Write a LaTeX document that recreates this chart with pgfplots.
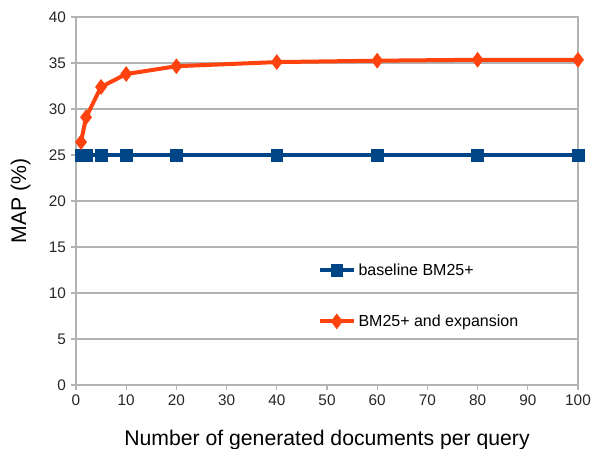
\documentclass[border=0pt]{standalone}
\usepackage{pgfplots}
\pgfplotsset{compat=1.18}
\usepackage{fontspec}
\setmainfont{Liberation Sans}
\definecolor{lblue}{HTML}{004586}
\definecolor{lorange}{HTML}{FF420E}
\definecolor{gridc}{HTML}{B3B3B3}
\begin{document}
\begin{tikzpicture}[x=0.75pt,y=0.75pt]
\begin{axis}[
  scale only axis,
  width=376.5pt, height=276pt,
  xmin=0, xmax=100, ymin=0, ymax=40,
  xtick={0,10,...,100}, ytick={0,5,...,40},
  ymajorgrids, major grid style={gridc, line width=0.8pt},
  axis line style={gridc, line width=0.8pt},
  tick style={gridc, line width=0.8pt},
  tick align=outside, major tick length=4pt,
  xtick pos=bottom, ytick pos=left,
  /pgf/number format/assume math mode=true,
  ticklabel style={font=\fontsize{11.5}{13}\selectfont, text=black!85},
  xlabel={Number of generated documents per query},
  ylabel={MAP (\%)},
  label style={font=\fontsize{15.9}{18}\selectfont},
  xlabel style={yshift=-11pt},
  ylabel style={yshift=7pt},
  legend style={at={(axis cs:47.3,13.8)}, anchor=north west, draw=none, fill=none,
    font=\fontsize{12}{14}\selectfont, row sep=24pt},
  legend cell align=left,
  legend image code/.code={\draw[mark repeat=2,mark phase=2,#1] plot coordinates {(0cm,0cm)(0.45cm,0cm)(0.9cm,0cm)};},
]
\addplot[color=lblue, line width=3pt, mark=square*, mark size=4.4pt, mark options={fill=lblue, line width=0.5pt}]
coordinates {(1,25) (2,25) (5,25) (10,25) (20,25) (40,25) (60,25) (80,25) (100,25)};
\addlegendentry{baseline BM25+}
\addplot[color=lorange, line width=3pt, mark=diamond*, mark size=5.5pt, mark options={fill=lorange, line width=0.5pt}]
coordinates {(1,26.4) (2,29.1) (5,32.4) (10,33.8) (20,34.65) (40,35.1) (60,35.25) (80,35.35) (100,35.35)};
\addlegendentry{BM25+ and expansion}
\coordinate (bl) at (rel axis cs:0,0);
\coordinate (tr) at (rel axis cs:1,1);
\end{axis}
\pgfresetboundingbox
\path ([shift={(-76,-64)}]bl) rectangle ([shift={(14,17)}]tr);
\end{tikzpicture}
\end{document}
